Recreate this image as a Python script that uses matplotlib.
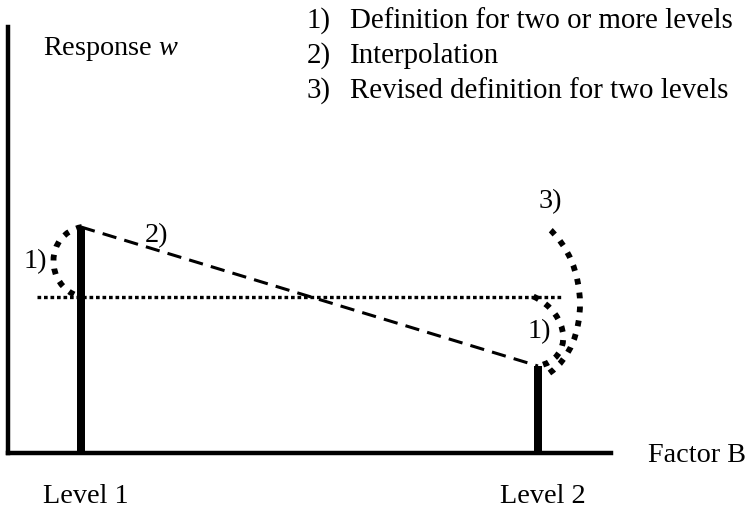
import matplotlib.pyplot as plt
from matplotlib.path import Path
from matplotlib.patches import PathPatch

plt.rcParams["font.family"] = ["Liberation Serif", "DejaVu Serif"]
plt.rcParams["mathtext.fontset"] = "custom"
plt.rcParams["mathtext.it"] = "Liberation Serif:italic"
plt.rcParams["mathtext.rm"] = "Liberation Serif"

# two levels of factor B and the response measured at each
levels = [1, 2]
level_labels = ["Level 1", "Level 2"]
response = [2.26, 0.87]
legend_items = [
    "Definition for two or more levels",
    "Interpolation",
    "Revised definition for two levels",
]

x1, x2 = levels
w1, w2 = response
w_mean = (w1 + w2) / 2

FS = 20.3
FS_KEY = 20.8
INK = "black"

fig = plt.figure(figsize=(7.5, 5.1), dpi=100)
ax = fig.add_axes([0, 0, 1, 1])
ax.set_xlim(0.8228, 2.4639)
ax.set_ylim(-0.56, 4.54)

# axes drawn as an L through the origin
for side in ["top", "right"]:
    ax.spines[side].set_visible(False)
ax.spines["left"].set_position(("data", 0.84))
ax.spines["left"].set_bounds(0, 4.26)
ax.spines["bottom"].set_position(("data", 0))
ax.spines["bottom"].set_bounds(0.84, 2.16)
for side in ["left", "bottom"]:
    ax.spines[side].set_linewidth(3.2)
    ax.spines[side].set_color(INK)
    ax.spines[side].set_capstyle("projecting")
ax.set_xticks([])
ax.set_yticks([])

# response at each level
ax.bar(levels, response, width=0.0175, color=INK)

# 2) interpolation between the two levels
ax.plot([x1, x2], [w1, w2], color=INK, lw=2.2, dashes=(4.7, 2.7))

# mean level
ax.plot([x1 - 0.096, x2 + 0.055], [w_mean, w_mean], color=INK, lw=2.4,
        dashes=(1.1, 0.85), solid_capstyle="butt", dash_capstyle="butt")


def dotted_arc(p0, c1, c2, p3):
    path = Path([p0, c1, c2, p3], [Path.MOVETO, Path.CURVE4, Path.CURVE4, Path.CURVE4])
    patch = PathPatch(path, facecolor="none", edgecolor=INK, lw=4.2,
                      linestyle=(0, (1.0, 1.4)), capstyle="butt")
    ax.add_patch(patch)


# 1) definition: effect from the mean to each level
dotted_arc((x1 + 0.002, w1), (x1 - 0.08, w1 - 0.07),
           (x1 - 0.08, w_mean + 0.11), (x1 - 0.004, w_mean))
dotted_arc((x2 - 0.01, w_mean), (x2 + 0.07, w_mean - 0.17),
           (x2 + 0.08, w2 + 0.07), (x2, w2))
# 3) revised definition: whole span between the two levels
dotted_arc((x2 + 0.025, w2 - 0.07), (x2 + 0.115, w2 + 0.22),
           (x2 + 0.115, 1.89), (x2 + 0.02, w1))

# labels next to the curves
ax.text(x1 - 0.099, 1.92, "1)", fontsize=FS, ha="center", va="center", color=INK)
ax.text(1.166, 2.18, "2)", fontsize=FS, ha="center", va="center", color=INK)
ax.text(x2 + 0.002, 1.22, "1)", fontsize=FS, ha="center", va="center", color=INK)
ax.text(x2 + 0.028, 2.52, "3)", fontsize=FS, ha="center", va="center", color=INK)

# axis titles and level names
ax.text(0.917, 3.99, "Response $w$", fontsize=FS, ha="left", va="baseline", color=INK)
ax.text(2.2407, -0.08, "Factor B", fontsize=FS, ha="left", va="baseline", color=INK)
for lv, lab in zip(levels, level_labels):
    ax.text(lv - 0.083, -0.49, lab, fontsize=FS, ha="left", va="baseline", color=INK)

# numbered key
for i, item in enumerate(legend_items):
    y = 4.26 - 0.35 * i
    ax.text(1.4945, y, f"{i + 1})", fontsize=FS_KEY, ha="left", va="baseline", color=INK)
    ax.text(1.5886, y, item, fontsize=FS_KEY, ha="left", va="baseline", color=INK)

fig.savefig("out.png", dpi=100)
